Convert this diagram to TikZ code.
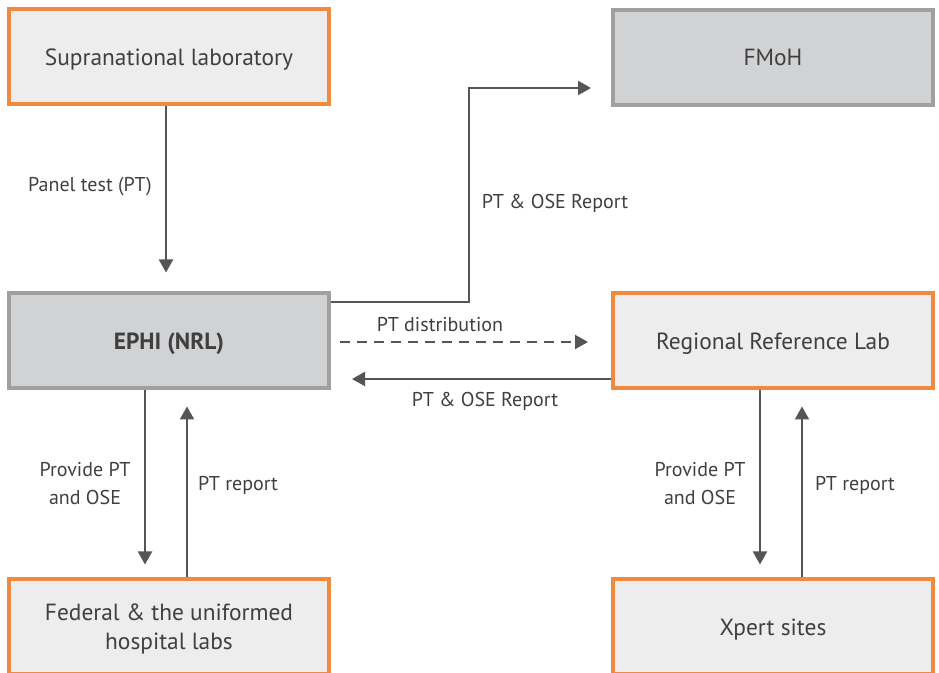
\documentclass[tikz,border=0pt]{standalone}
\usepackage{fontspec}
\setmainfont{PT Sans}
\usetikzlibrary{positioning,arrows.meta}
\definecolor{labedge}{HTML}{F08A3E}
\definecolor{labfill}{HTML}{EDEDED}
\definecolor{govedge}{HTML}{A0A0A2}
\definecolor{govfill}{HTML}{D1D2D4}
\definecolor{inktext}{HTML}{3F3F3F}
\definecolor{inkline}{HTML}{555555}
\tikzset{
  labbox/.style={rectangle,draw=labedge,fill=labfill,line width=2pt,minimum width=160pt,
    minimum height=47.5pt,align=center,text=inktext,text depth=0pt,font=\fontsize{11.7}{14.5}\selectfont},
  govbox/.style={labbox,draw=govedge,fill=govfill},
  lbl/.style={align=center,text=inktext,font=\fontsize{10}{14}\selectfont},
  flow/.style={-{Triangle[length=6.5pt,width=7pt]},line width=1.1pt,draw=inkline},
}
\begin{document}
\begin{tikzpicture}[x=0.5pt,y=-0.5pt]
  \useasboundingbox (0,0) rectangle (939,673);
  \clip (0,0) rectangle (939,673);
  \node[labbox] (supra) at (169,57) {Supranational laboratory};
  \node[govbox] (fmoh) at (773,57.5) {FMoH};
  \node[govbox] (ephi) at (169,341) {\bfseries EPHI (NRL)};
  \node[labbox] (rrl) at (773,341) {Regional Reference Lab};
  \node[labbox] (fed) at (169,627) {Federal \& the uniformed\\hospital labs};
  \node[labbox] (xpert) at (773,627) {Xpert sites};
  % connectors
  \draw[flow,shorten >=9.5pt] ([xshift=-1.5pt]supra.south) -- ([xshift=-1.5pt]ephi.north);
  \draw[flow,shorten >=10pt] ([yshift=19.5pt]ephi.east) -- ++(138,0) |- ([yshift=-15.25pt]fmoh.west);
  \draw[flow,dash pattern=on 5pt off 3.5pt,shorten <=4.5pt,shorten >=11.5pt] ([yshift=-0.5pt]ephi.east) -- ([yshift=-0.5pt]rrl.west);
  \draw[flow,shorten >=10.5pt] ([yshift=-19pt]rrl.west) -- ([yshift=-19pt]ephi.east);
  \draw[flow,shorten >=6.5pt] ([xshift=-12pt]ephi.south) -- ([xshift=-12pt]fed.north);
  \draw[flow,shorten >=8pt] ([xshift=9pt]fed.north) -- ([xshift=9pt]ephi.south);
  \draw[flow,shorten >=6.5pt] ([xshift=-6.5pt]rrl.south) -- ([xshift=-6.5pt]xpert.north);
  \draw[flow,shorten >=8pt] ([xshift=14.5pt]xpert.north) -- ([xshift=14.5pt]rrl.south);
  % labels
  \node[lbl] (ptpanel) at (90,187) {Panel test (PT)};
  \node[lbl] (ptfmoh) at (555,203) {PT \& OSE Report};
  \node[lbl] (ptdist) at (440,325) {PT distribution};
  \node[lbl] (ptback) at (485,401) {PT \& OSE Report};
  \node[lbl] (provfed) at (85,484) {Provide PT\\and OSE};
  \node[lbl] (repfed) at (238,485) {PT report};
  \node[lbl] (provxp) at (700,484) {Provide PT\\and OSE};
  \node[lbl] (repxp) at (855,485) {PT report};
\end{tikzpicture}
\end{document}
